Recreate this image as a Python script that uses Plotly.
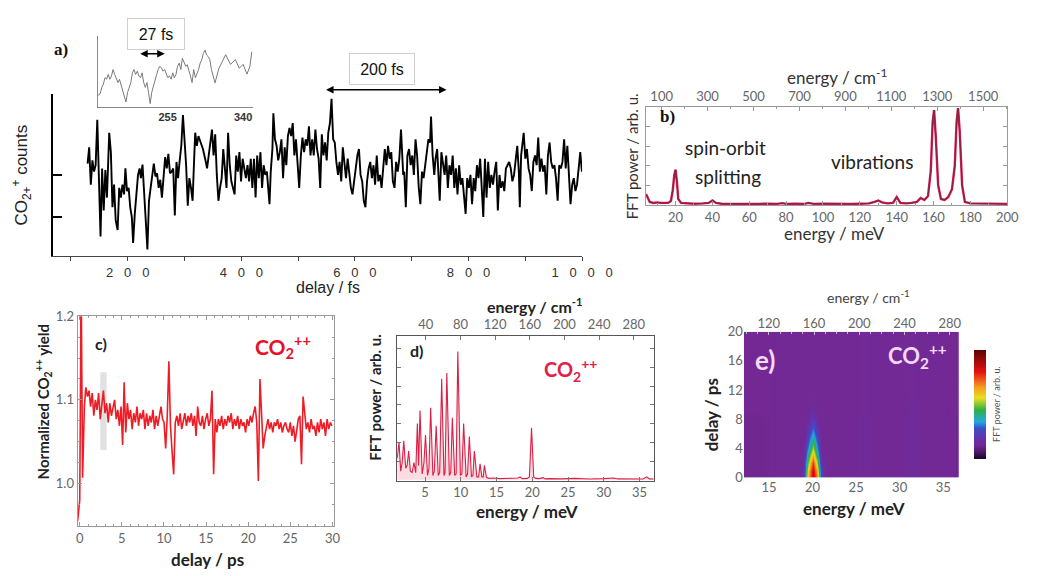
import plotly.graph_objects as go

W, H = 1047, 576
def X(px): return px / W
def Y(py): return 1 - py / H

# ---------------- panel a : CO2+ counts vs delay ----------------
a_delay = [
129.3,132.1,135.0,137.8,140.7,143.5,146.4,149.2,152.1,154.9,157.7,160.6,163.4,167.4,170.3,173.1,175.9,178.8,182.2,185.0,
187.9,190.7,193.6,195.9,198.7,201.6,204.4,207.2,209.5,212.4,215.2,218.1,220.9,223.2,226.0,228.9,231.7,234.6,237.4,240.3,
243.1,245.9,248.8,251.6,254.5,257.3,260.2,263.0,265.9,268.7,271.5,274.4,277.2,280.1,282.9,285.8,288.6,291.5,294.3,297.2,
300.0,302.8,305.7,308.5,311.4,314.2,316.5,318.8,321.6,324.5,328.4,332.4,
336.9,339.7,342.6,345.4,348.3,351.1,354.0,356.8,359.7,362.5,365.4,368.2,371.0,373.9,376.7,379.6,382.4,385.3,388.1,391.0,
393.8,396.6,399.5,402.3,405.2,408.0,410.9,413.7,416.6,419.4,422.3,425.1,427.9,430.8,433.6,436.5,439.3,442.2,445.0,447.9,
449.6,451.8,454.7,456.4,459.2,462.1,464.9,467.8,470.6,473.5,476.3,479.2,482.0,484.8,487.7,490.5,493.4,496.2,499.1,501.9,
504.8,507.6,510.5,513.3,516.1,519.0,521.8,524.7,527.5,530.4,533.2,536.1,538.9,541.7,544.6,547.4,550.3,553.1,556.0,558.8,
561.7,564.5,567.3,570.2,573.0,575.9,578.7,581.6,
584.3,587.2,590.0,592.9,595.7,598.6,601.4,604.3,607.1,609.9,612.8,615.6,618.5,621.3,624.2,627.0,629.9,632.7,635.5,638.4,
641.2,644.1,646.9,649.8,652.6,655.5,658.3,661.2,664.0,666.8,669.7,672.5,675.4,678.2,681.1,682.8,685.0,686.8,689.6,692.4,
695.3,698.1,701.0,703.8,706.7,709.5,712.4,715.2,718.1,720.9,723.7,726.6,729.4,732.3,734.0,736.8,739.7,741.9,744.8,747.6,
749.3,752.2,755.0,757.9,760.7,763.6,766.4,769.3,772.1,775.0,777.8,780.6,783.5,786.3,789.2,792.0,794.9,797.7,800.6,803.4,
806.2,809.1,811.9,814.8,817.6,820.5,
823.2,826.0,828.9,831.7,834.6,837.4,840.2,843.1,845.9,848.8,851.6,854.5,857.3,860.2,863.0,865.8,868.7,871.5,874.4,877.2,
880.1,882.9,885.8,888.6,890.3,892.6,895.4,897.1,900.0,902.8,905.7,908.5,911.4,914.2,917.1,919.9,922.7,925.6,928.4,931.3,
934.1,937.0,939.8,942.7,945.5,948.4,951.2,954.0,956.9,959.7,962.6,965.4,968.3,971.1,974.0,976.8,979.6,982.5,985.3,988.2,
991.0,993.9,996.7,999.6]
a_counts = [
95,111.7,73.3,98.3,86.7,93.3,140,86.7,20,90,46.7,88.3,60,126.7,106.7,50,73.3,36.7,26.7,70,
60,73.3,63.3,90,66.7,70,50,40,13.3,43.3,66.7,83.3,90,80,94,70,36.7,6.7,56.7,70,
83.3,95,81.7,85,70,78.3,60,83.3,101.7,90,105,85,86.7,90,41.7,96.7,80,98.3,113.3,145,
120,93.3,51.7,80,70,56.7,93.3,126.7,113.3,123.3,116.7,110,
98.3,90,103.3,120,130,103.3,125,83.3,56.7,70,80,110,93.3,70,126.7,93.3,76.7,70,63.3,103.3,
86.7,106.7,76.7,100,90,80,93.3,76.7,100,70,100,60,103.3,80,106.7,70,93.3,83.3,86.7,63.3,
53.3,86.7,110,146.7,120,113.3,98.3,106.7,120,80,111.7,93.3,123.3,131.7,123.3,136.7,103.3,120,90,70,
103.3,121.7,106.7,120,113.3,133.3,103.3,120,103.3,130,110,100,70,125,103.3,116.7,98.3,126.7,136.7,161.7,
120,116.7,96.7,83.3,96.7,76.7,111.7,93.3,
80,100,86.7,70,63.3,76.7,90,103.3,110,83.3,76.7,56.7,50,76.7,90,96.7,80,93.3,73.3,103.3,
76.7,83.3,70,93.3,110,93.3,113.3,100,106.7,76.7,70,96.7,86.7,100,130,110,83.3,86.7,50,103.3,
110,93.3,103.3,83.3,120,103.3,70,53.3,86.7,80,96.7,106.7,120,116.7,143.3,103.3,83.3,100,110,76.7,
56.7,106.7,96.7,83.3,103.3,70,93.3,83.3,103.3,70,90,63.3,93.3,73.3,80,56.7,43.3,80,70,83.3,
53.3,80,66.7,93.3,80,100,
70,40,100,60,96.7,70,83.3,73.3,86.7,96.7,46.7,83.3,70,76.7,66.7,90,93.3,96.7,90,76.7,
83.3,96.7,113.3,86.7,50,103.3,120,126.7,100,110,90,83.3,66.7,96.7,103.3,93.3,121.7,86.7,100,86.7,
93.3,63.3,103.3,116.7,96.7,90,93.3,80,56.7,93.3,90,96.7,120,90,113.3,80,53.3,73.3,80,66.7,
73.3,90,106.7,86.7]
a_tickvals = [100, 200, 300, 400, 500, 600, 700, 800, 900, 1000]
NB = "\u00a0\u00a0\u00a0"
a_ticktext = ["", NB.join("200"), "", NB.join("400"), "", NB.join("600"), "", NB.join("800"), "", NB.join("1000")]

# inset of panel a
inset_delay = [176.5,
179.0,180.9,182.7,184.5,186.3,188.2,190.0,191.8,193.6,195.4,
197.2,199.1,200.8,202.7,204.5,206.3,208.1,210.0,211.7,213.6,
215.4,217.2,219.0,220.9,222.7,224.5,226.3,228.1,229.9,231.8,
233.5,235.4,237.2,239.0,240.8,242.7,244.4,246.3,248.1,249.9,
251.7,253.6,255.3,257.2,259.0,260.8,262.6,264.5,266.2,268.1,
269.9,271.7,273.5,275.4,277.1,279.0,280.8,282.6,284.4,286.3,
288.0,289.9,291.7,293.5,295.3,297.2,298.9,300.8,302.6,304.4,
308.4,312.8,320.4,325.9,331.3,335.7,340.0,344.4,347.7,349.8]
inset_counts = [12,
13.7,20.3,23.7,30.3,28.7,33.7,28.7,32,38.7,33.7,
30.3,25.3,28.7,22,18.7,12,5.3,15.3,20.3,25.3,
35.3,38.7,33.7,37,32,30.3,35.3,25.3,20.3,25.3,
15.3,3.7,15.3,22,28.7,33.7,38.7,42,40.3,37,
38.7,33.7,30.3,32,28.7,35.3,30.3,33.7,42,45.3,
38.7,50.3,47,42,43.7,38.7,32,25.3,38.7,30.3,
33.7,38.7,45.3,48.7,55.3,58.7,53.7,52,48.7,38.7,
25,40,54,44,49,40,44,34,42,57]
inset_ticks = [255, 340]

# ---------------- panel b : FFT spectrum ----------------
b_energy = [4,5,6,8,10,12,14,16,17.5,18.5,19.3,20.0,20.7,21.5,23,26,30,35,38,40,
42,45,50,55,60,65,70,75,78,80,85,90,92,95,100,105,110,115,120,125,
128,130,132,135,138,140,142,145,148,151,153,155,157,158.5,159.5,160.3,161.2,162.5,164,166,
168,170,171.5,172.5,173.3,174.2,175.5,177,180,185,190,195,200]
b_power = [0.11,0.06,0.03,0.02,0.025,0.02,0.018,0.02,0.04,0.15,0.30,0.36,0.25,0.06,0.02,0.015,0.012,0.015,0.02,0.045,
0.02,0.012,0.01,0.012,0.01,0.01,0.012,0.01,0.018,0.01,0.012,0.01,0.02,0.01,0.012,0.01,0.012,0.01,0.012,0.015,
0.03,0.045,0.025,0.015,0.02,0.08,0.02,0.015,0.02,0.03,0.07,0.05,0.09,0.35,0.85,0.97,0.7,0.2,0.06,0.05,
0.08,0.16,0.4,0.85,0.99,0.75,0.2,0.03,0.015,0.012,0.01,0.012,0.01]
b_meV_ticks = [20, 40, 60, 80, 100, 120, 140, 160, 180, 200]
b_cm_ticks = [100, 300, 500, 700, 900, 1100, 1300, 1500]

# ---------------- panel c : normalized CO2++ yield ----------------
c_delay = [-0.25,0.0,0.08,0.16,0.22,0.34,0.55,
0.72,0.91,1.10,1.29,1.48,1.67,1.86,2.05,2.24,2.43,
2.62,2.81,3.00,3.19,3.38,3.57,3.76,3.95,4.14,4.33,
4.52,4.71,4.90,5.09,5.27,5.46,5.65,5.84,6.03,6.22,
6.41,6.60,6.79,6.98,7.17,7.36,7.55,7.74,7.93,8.12,
8.31,8.50,8.69,8.88,9.07,9.26,9.45,9.64,9.83,10.01,
10.20,10.39,10.58,10.77,10.96,11.15,11.34,11.53,11.72,11.91,
12.10,12.29,12.48,12.67,12.86,13.05,13.24,13.43,13.62,13.81,
14.00,14.18,14.37,14.56,14.75,14.94,15.13,15.32,15.51,15.70,
15.89,16.08,16.27,16.46,16.65,16.84,17.03,17.22,17.41,17.60,
17.79,17.98,18.17,18.36,18.55,18.74,18.93,19.12,19.31,19.49,
19.68,19.87,20.06,20.25,20.44,20.63,20.82,21.01,21.20,21.39,
21.58,21.77,21.96,22.15,22.34,22.53,22.72,22.91,23.10,23.29,
23.48,23.67,23.86,24.04,24.23,24.42,24.61,24.80,24.99,25.18,
25.37,25.56,25.75,25.94,26.13,26.32,26.51,26.70,26.89,27.08,
27.27,27.46,27.65,27.84,28.03,28.22,28.41,28.60,28.79,28.98,
29.17,29.36,29.55,29.74,29.93]
c_yield = [0.955,0.98,1.10,1.25,1.17,1.007,1.092,
1.115,1.104,1.111,1.092,1.108,1.081,1.100,1.088,1.108,1.077,
1.092,1.111,1.084,1.096,1.073,1.096,1.081,1.092,1.100,1.077,
1.088,1.069,1.092,1.046,1.121,1.061,1.096,1.077,1.088,1.065,
1.084,1.073,1.092,1.069,1.084,1.077,1.088,1.065,1.084,1.069,
1.081,1.073,1.088,1.065,1.081,1.069,1.084,1.092,1.077,1.073,
1.042,1.081,1.146,1.069,1.038,1.011,1.073,1.081,1.069,1.084,
1.065,1.077,1.084,1.069,1.081,1.073,1.084,1.069,1.081,1.057,
1.092,1.073,1.069,1.081,1.065,1.077,1.084,1.069,1.077,1.111,
1.011,1.077,1.061,1.077,1.069,1.081,1.065,1.077,1.069,1.081,
1.073,1.084,1.065,1.077,1.069,1.081,1.065,1.077,1.069,1.073,
1.061,1.077,1.069,1.081,1.073,1.084,1.092,1.073,1.003,1.125,
1.088,1.042,1.057,1.069,1.077,1.065,1.073,1.061,1.073,1.069,
1.077,1.065,1.073,1.061,1.069,1.073,1.065,1.061,1.073,1.057,
1.069,1.050,1.065,1.077,1.081,1.023,1.104,1.088,1.065,1.073,
1.061,1.077,1.065,1.069,1.057,1.073,1.061,1.077,1.065,1.073,
1.057,1.077,1.065,1.073,1.069]
c_band = [2.43, 3.19, 1.040, 1.133]   # shaded delay window: t0, t1, y0, y1

# ---------------- panel d : FFT of CO2++ ----------------
d_energy = [1.1,1.36,1.6,1.8,2.03,2.3,2.5,2.71,2.95,3.2,
3.45,3.7,3.93,4.1,4.3,4.6,4.85,5.07,5.35,5.55,
5.79,6.1,6.3,6.56,6.85,7.05,7.33,7.65,7.8,8.05,
8.4,8.6,8.82,9.15,9.35,9.59,9.95,10.15,10.4,10.75,
10.95,11.2,11.5,11.7,11.9,12.25,12.5,12.7,12.95,13.15,
13.3,13.6,14.0,14.5,15.5,16.5,17.5,18.0,18.3,18.6,
19.3,19.6,19.9,20.2,20.5,21.0,21.5,21.8,22.5,24.0,
26.0,28.0,30.0,31.4,32.0,34.0,35.5,36.0,36.4,37.0]
d_power = [0.15,0.26,0.06,0.12,0.27,0.08,0.10,0.20,0.06,0.05,
0.12,0.05,0.39,0.10,0.48,0.04,0.12,0.31,0.03,0.08,
0.50,0.03,0.06,0.375,0.03,0.05,0.70,0.03,0.05,0.74,
0.03,0.05,0.43,0.03,0.04,0.89,0.03,0.04,0.39,0.02,
0.04,0.30,0.02,0.03,0.20,0.02,0.02,0.11,0.02,0.02,
0.10,0.015,0.01,0.012,0.008,0.01,0.008,0.012,0.02,0.008,
0.01,0.02,0.36,0.02,0.01,0.008,0.015,0.006,0.008,0.006,
0.01,0.005,0.008,0.012,0.006,0.008,0.005,0.02,0.006,0.005]
d_meV_ticks = [5, 10, 15, 20, 25, 30, 35]
d_cm_ticks = [40, 80, 120, 160, 200, 240, 280]

# ---------------- panel e : sliding-window FFT map ----------------
e_energy = [12.1,14,16,17.5,18.5,19.0,19.5,20.0,20.5,21.0,21.5,22.5,24,26,28,30,31.5,33,35,36.8]
e_delay = [0,1,2,3,4,5,6,7,8,9,10,12,14,16,18,20]
e_power = [
[0.12,0.12,0.13,0.13,0.14,0.22,0.62,0.86,0.70,0.26,0.14,0.13,0.13,0.145,0.13,0.13,0.15,0.13,0.135,0.12],
[0.12,0.12,0.13,0.13,0.14,0.20,0.58,0.84,0.64,0.23,0.14,0.13,0.13,0.145,0.13,0.13,0.15,0.13,0.135,0.12],
[0.12,0.12,0.13,0.13,0.135,0.18,0.48,0.76,0.52,0.20,0.135,0.13,0.13,0.145,0.13,0.13,0.15,0.13,0.135,0.12],
[0.12,0.12,0.13,0.13,0.135,0.16,0.40,0.63,0.43,0.17,0.13,0.13,0.13,0.145,0.13,0.13,0.15,0.13,0.135,0.12],
[0.12,0.12,0.13,0.13,0.13,0.15,0.32,0.53,0.35,0.15,0.13,0.13,0.13,0.145,0.13,0.13,0.15,0.13,0.135,0.12],
[0.12,0.12,0.13,0.13,0.13,0.14,0.26,0.43,0.28,0.14,0.13,0.13,0.13,0.145,0.13,0.13,0.15,0.13,0.135,0.12],
[0.12,0.12,0.13,0.13,0.13,0.135,0.21,0.35,0.23,0.14,0.13,0.13,0.13,0.145,0.13,0.13,0.15,0.13,0.135,0.12],
[0.12,0.12,0.13,0.13,0.13,0.13,0.18,0.28,0.19,0.135,0.13,0.13,0.13,0.145,0.13,0.13,0.15,0.13,0.135,0.12],
[0.12,0.12,0.13,0.13,0.13,0.13,0.16,0.22,0.16,0.13,0.13,0.13,0.13,0.145,0.13,0.13,0.15,0.13,0.135,0.12],
[0.125,0.125,0.13,0.13,0.13,0.13,0.145,0.17,0.145,0.13,0.13,0.13,0.13,0.14,0.13,0.13,0.145,0.13,0.13,0.125],
[0.125,0.125,0.13,0.13,0.13,0.13,0.135,0.15,0.135,0.13,0.13,0.13,0.13,0.14,0.13,0.13,0.145,0.13,0.13,0.125],
[0.125,0.125,0.13,0.13,0.13,0.13,0.13,0.14,0.13,0.13,0.13,0.13,0.13,0.14,0.13,0.13,0.14,0.13,0.13,0.125],
[0.125,0.125,0.13,0.13,0.13,0.13,0.13,0.135,0.13,0.13,0.13,0.13,0.13,0.14,0.13,0.13,0.14,0.13,0.13,0.125],
[0.125,0.125,0.13,0.13,0.13,0.13,0.13,0.13,0.13,0.13,0.13,0.13,0.13,0.14,0.13,0.13,0.14,0.13,0.13,0.125],
[0.125,0.125,0.13,0.13,0.13,0.13,0.13,0.13,0.13,0.13,0.13,0.13,0.13,0.14,0.13,0.13,0.14,0.13,0.13,0.125],
[0.125,0.125,0.13,0.13,0.13,0.13,0.13,0.13,0.13,0.13,0.13,0.13,0.13,0.14,0.13,0.13,0.14,0.13,0.13,0.125]]
e_meV_ticks = [15, 20, 25, 30, 35]
e_cm_ticks = [120, 160, 200, 240, 280]
e_delay_ticks = [0, 4, 8, 12, 16, 20]
e_colorscale = [[0, '#1a0526'], [0.07, '#50186e'], [0.125, '#732893'], [0.16, '#6e2c9e'],
                [0.22, '#5a3ab8'], [0.28, '#3a4fc8'], [0.34, '#20a8e0'], [0.45, '#30b040'],
                [0.56, '#e8e020'], [0.66, '#f59a20'], [0.8, '#e81010'], [1.0, '#5a0505']]

# ================= figure =================
fig = go.Figure()
fig.add_trace(go.Scatter(x=a_delay, y=a_counts, xaxis='x', yaxis='y', mode='lines',
                         line=dict(color='black', width=1.9), hoverinfo='skip'))
fig.add_trace(go.Scatter(x=inset_delay, y=inset_counts, xaxis='x2', yaxis='y2', mode='lines',
                         line=dict(color='#7a7a7a', width=1), hoverinfo='skip'))
fig.add_trace(go.Scatter(x=b_energy, y=b_power, xaxis='x3', yaxis='y3', mode='lines',
                         line=dict(color='#d21a50', width=2.4), hoverinfo='skip'))
fig.add_trace(go.Scatter(x=b_energy, y=b_power, xaxis='x3', yaxis='y3', mode='lines',
                         line=dict(color='#4a2a35', width=0.6), hoverinfo='skip'))
fig.add_trace(go.Scatter(x=[None], y=[None], xaxis='x4', yaxis='y3', mode='lines', hoverinfo='skip'))
fig.add_trace(go.Scatter(x=c_delay, y=c_yield, xaxis='x5', yaxis='y5', mode='lines',
                         line=dict(color='#ee1c25', width=1.6), hoverinfo='skip'))
fig.add_trace(go.Scatter(x=d_energy, y=d_power, xaxis='x6', yaxis='y6', mode='lines',
                         fill='tozeroy', fillcolor='rgba(240,140,160,0.3)',
                         line=dict(color='#dc1f45', width=1.1), hoverinfo='skip'))
fig.add_trace(go.Scatter(x=[None], y=[None], xaxis='x7', yaxis='y6', mode='lines', hoverinfo='skip'))
fig.add_trace(go.Heatmap(x=e_energy, y=e_delay, z=e_power, xaxis='x8', yaxis='y8',
                         colorscale=e_colorscale, zmin=0, zmax=1, zsmooth='best', hoverinfo='skip',
                         colorbar=dict(x=X(993), xanchor='left', y=Y(407.5), yanchor='middle',
                                       len=129, lenmode='pixels', thickness=12, thicknessmode='pixels',
                                       showticklabels=False, ticks='', outlinewidth=0,
                                       title=dict(text='FFT power / arb. u.', side='right',
                                                  font=dict(family='Lato', size=9, color='#555')))))
fig.add_trace(go.Scatter(x=[None], y=[None], xaxis='x9', yaxis='y8', mode='lines', hoverinfo='skip'))

TF = dict(family='Lato', size=13, color='#666')
base = dict(showgrid=False, zeroline=False)

fig.update_layout(
    width=W, height=H, margin=dict(l=0, r=0, t=0, b=0),
    paper_bgcolor='white', plot_bgcolor='rgba(0,0,0,0)', showlegend=False,
    # panel a
    xaxis=dict(**base, domain=[X(53), X(599)], anchor='y', range=[69, 1000], showline=True,
               linecolor='#444', linewidth=1, ticks='outside', ticklen=4, tickcolor='#444',
               tickvals=a_tickvals, ticktext=a_ticktext,
               tickfont=dict(family='Liberation Sans', size=13, color='#333')),
    yaxis=dict(**base, domain=[Y(255), Y(88)], anchor='x', range=[0, 167], showline=True,
               linecolor='black', linewidth=2, ticks='inside', ticklen=9, tickwidth=2,
               tickcolor='black', tickvals=[40, 83, 167], showticklabels=False),
    xaxis2=dict(**base, domain=[X(99), X(259)], anchor='y2', range=[176.5, 351], showline=True,
                linecolor='#888', ticks='', tickvals=inset_ticks,
                ticktext=['<b>%d</b>' % v for v in inset_ticks],
                tickfont=dict(family='Liberation Sans', size=11, color='#333')),
    yaxis2=dict(**base, domain=[Y(102), Y(29)], anchor='x2', range=[0, 73], showline=True,
                linecolor='#888', ticks='', showticklabels=False),
    # panel b
    xaxis3=dict(**base, domain=[X(665), X(1038)], anchor='y3', range=[4, 200], showline=True,
                linecolor='#999', ticks='inside', ticklen=4, tickcolor='#999', tickvals=b_meV_ticks,
                minor=dict(ticks='inside', ticklen=2, dtick=10, tickcolor='#999'), tickfont=TF),
    xaxis4=dict(**base, overlaying='x3', side='top', anchor='y3', range=[32, 1605], showline=True,
                linecolor='#999', ticks='inside', ticklen=4, tickcolor='#999', tickvals=b_cm_ticks,
                minor=dict(ticks='inside', ticklen=2, dtick=100, tickcolor='#999'), tickfont=TF),
    yaxis3=dict(**base, domain=[Y(203), Y(102)], anchor='x3', range=[-0.005, 1.0], showline=True,
                mirror='ticks', linecolor='#999', ticks='inside', ticklen=4, tickcolor='#999',
                dtick=0.2, showticklabels=False),
    # panel c
    xaxis5=dict(**base, domain=[X(78), X(343)], anchor='y5', range=[-0.26, 30.2], showline=True,
                mirror='ticks', linecolor='#999', ticks='inside', ticklen=4, tickcolor='#999',
                tickvals=[0, 5, 10, 15, 20, 25, 30],
                minor=dict(ticks='inside', ticklen=2, dtick=1, tickcolor='#999'), tickfont=TF),
    yaxis5=dict(**base, domain=[Y(533), Y(317)], anchor='x5', range=[0.949, 1.2], showline=True,
                mirror='ticks', linecolor='#999', ticks='inside', ticklen=4, tickcolor='#999',
                tickvals=[1.0, 1.1, 1.2], ticktext=['1.0', '1.1', '1.2'],
                minor=dict(ticks='inside', ticklen=2, dtick=0.025, tickcolor='#999'), tickfont=TF),
    # panel d
    xaxis6=dict(**base, domain=[X(408), X(673)], anchor='y6', range=[1.1, 37], showline=True,
                linecolor='#555', ticks='inside', ticklen=4, tickcolor='#777', tickvals=d_meV_ticks,
                tickfont=TF),
    xaxis7=dict(**base, overlaying='x6', side='top', anchor='y6', range=[7, 303], showline=True,
                linecolor='#555', ticks='inside', ticklen=4, tickcolor='#777', tickvals=d_cm_ticks,
                tickfont=TF),
    yaxis6=dict(**base, domain=[Y(486), Y(337)], anchor='x6', range=[-0.005, 1.0], showline=True,
                mirror='ticks', linecolor='#555', ticks='inside', ticklen=4, tickcolor='#777',
                tickvals=[0.13, 0.26, 0.39, 0.52, 0.65, 0.78, 0.91], showticklabels=False),
    # panel e
    xaxis8=dict(**base, domain=[X(766), X(988)], anchor='y8', range=[12.1, 36.8], showline=False,
                ticks='', tickvals=e_meV_ticks, tickfont=TF),
    xaxis9=dict(**base, overlaying='x8', side='top', anchor='y8', range=[98, 288], showline=False,
                ticks='inside', ticklen=3, tickcolor='#bbb', tickvals=e_cm_ticks,
                minor=dict(ticks='inside', ticklen=2, dtick=10, tickcolor='#bbb'), tickfont=TF),
    yaxis8=dict(**base, domain=[Y(483), Y(333)], anchor='x8', range=[0, 20], showline=False,
                ticks='', tickvals=e_delay_ticks, tickfont=TF),
)

# shaded window in panel c
fig.add_shape(type='rect', xref='x5', yref='y5', x0=c_band[0], x1=c_band[1], y0=c_band[2], y1=c_band[3],
              fillcolor='#d9d9d9', opacity=0.8, line=dict(width=0), layer='below')

ann = []
def txt(px, py, text, size, color='#222', family='Lato', angle=0, **kw):
    ann.append(dict(x=X(px), y=Y(py), xref='paper', yref='paper', text=text, showarrow=False,
                    xanchor='center', yanchor='middle', textangle=angle,
                    font=dict(family=family, size=size, color=color), **kw))

CO2pp = 'CO<sub>2</sub><sup>++</sup>'
# panel a texts
txt(61, 43, '<b>a)</b>', 17, '#111', 'Liberation Serif')
txt(159, 27, '27 fs', 16, '#111', 'Liberation Sans', bordercolor='#cfcfcf', borderwidth=1,
    borderpad=2, width=52, height=26, bgcolor='white')
txt(392, 63, '200 fs', 16, '#111', 'Liberation Sans', bordercolor='#cfcfcf', borderwidth=1,
    borderpad=2, width=60, height=26, bgcolor='white')
txt(337, 287, 'delay / fs', 16, '#222', 'Liberation Sans')
txt(20, 172, 'CO<sub>2+</sub><sup>+</sup> counts', 17, '#222', 'Liberation Sans', angle=-90)
# panel b texts
txt(687, 112, '<b>b)</b>', 17, '#111', 'Liberation Serif')
txt(747, 143, 'spin-orbit', 19, '#222')
txt(750, 173, 'splitting', 19, '#222')
txt(898, 158, 'vibrations', 19, '#222')
txt(860, 232, 'energy / meV', 17, '#333')
txt(863, 70, 'energy / cm<sup>-1</sup>', 17, '#333')
txt(650, 153, 'FFT power / arb. u.', 15, '#333', angle=-90)
# panel c texts
txt(102, 345, '<b>c)</b>', 16, '#222')
txt(290, 348, '<b>' + CO2pp + '</b>', 21, '#e8102a')
txt(212, 567, '<b>delay / ps</b>', 17, '#222')
txt(43, 405, '<b>Normalized ' + CO2pp + ' yield</b>', 15, '#222', angle=-90)
# panel d texts
txt(428, 352, '<b>d)</b>', 16, '#222')
txt(587, 372, '<b>' + CO2pp + '</b>', 20, '#e0204a')
txt(542, 518, '<b>energy / meV</b>', 17, '#222')
txt(550, 306, '<b>energy / cm<sup>-1</sup></b>', 16, '#222')
txt(385, 400, '<b>FFT power / arb. u.</b>', 15, '#222', angle=-90)
# panel e texts
txt(788, 362, '<b>e)</b>', 26, '#f3d9f5')
txt(945, 358, '<b>' + CO2pp + '</b>', 22, '#f3d9f5')
txt(880, 515, '<b>energy / meV</b>', 17, '#222')
txt(895, 297, 'energy / cm<sup>-1</sup>', 14, '#444')
txt(732, 418, '<b>delay / ps</b>', 17, '#222', angle=-90)

# double-headed arrows
for (x0, x1, yy) in [(142, 168, 47), (337, 459, 84)]:
    ann.append(dict(x=X(x1), y=Y(yy), xref='paper', yref='paper', ax=-(x1 - x0), ay=0,
                    text='', showarrow=True, arrowside='end+start', arrowhead=2, arrowsize=1,
                    arrowwidth=1.5, arrowcolor='black', standoff=0, startstandoff=0))

fig.update_layout(annotations=ann)
fig.write_html('out.html')
